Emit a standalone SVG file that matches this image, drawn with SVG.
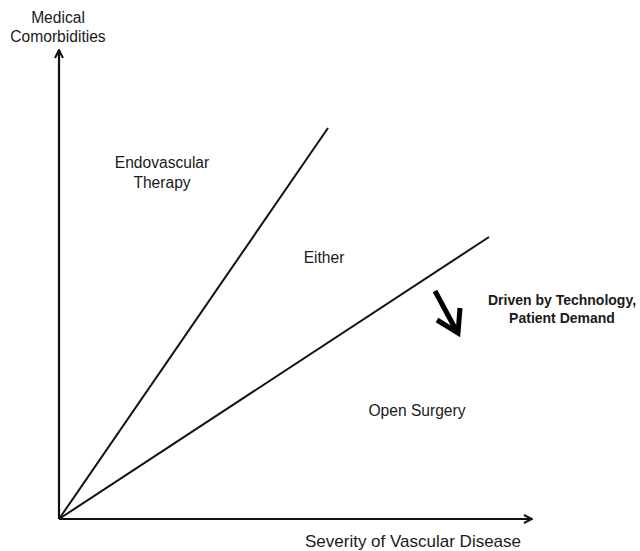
<svg xmlns="http://www.w3.org/2000/svg" width="640" height="551" viewBox="0 0 640 551">
<style>
text{font-family:"Liberation Sans",Arial,sans-serif;fill:#1a1a1a;text-anchor:middle}
.n{font-size:15.6px}
.b{font-size:14px;font-weight:bold}
.ax{fill:none;stroke:#111;stroke-width:2.2}
.ln{fill:none;stroke:#111;stroke-width:2}
</style>
<defs>
<marker id="ah" viewBox="0 0 10 10" refX="9" refY="5" markerWidth="10" markerHeight="10" markerUnits="userSpaceOnUse" orient="auto">
<path d="M1,1 L9,5 L1,9" fill="none" stroke="#111" stroke-width="2"/>
</marker>
</defs>
<g id="connectors">
<line class="ax" x1="59" y1="519" x2="59" y2="50" marker-end="url(#ah)"/>
<line class="ax" x1="59" y1="519" x2="532" y2="519" marker-end="url(#ah)"/>
<line class="ln" x1="59" y1="519" x2="328" y2="128"/>
<line class="ln" x1="59" y1="519" x2="489" y2="237"/>
<g id="trend-arrow" fill="none" stroke="#000" stroke-width="5" stroke-linecap="butt" stroke-linejoin="miter">
<line x1="435" y1="291" x2="456" y2="330"/>
<polyline points="437,320 458,333 460,308"/>
</g>
</g>
<g id="y-label"><text class="n" x="58" y="23">Medical</text><text class="n" x="58" y="42">Comorbidities</text></g>
<g id="endovascular"><text class="n" x="162" y="168">Endovascular</text><text class="n" x="162" y="188">Therapy</text></g>
<g id="either"><text class="n" x="324" y="263">Either</text></g>
<g id="driven"><text class="b" x="562" y="305">Driven by Technology,</text><text class="b" x="562" y="323">Patient Demand</text></g>
<g id="open-surgery"><text class="n" x="417" y="416">Open Surgery</text></g>
<g id="x-label"><text x="413" y="547" style="font-size:17px">Severity of Vascular Disease</text></g>
</svg>
